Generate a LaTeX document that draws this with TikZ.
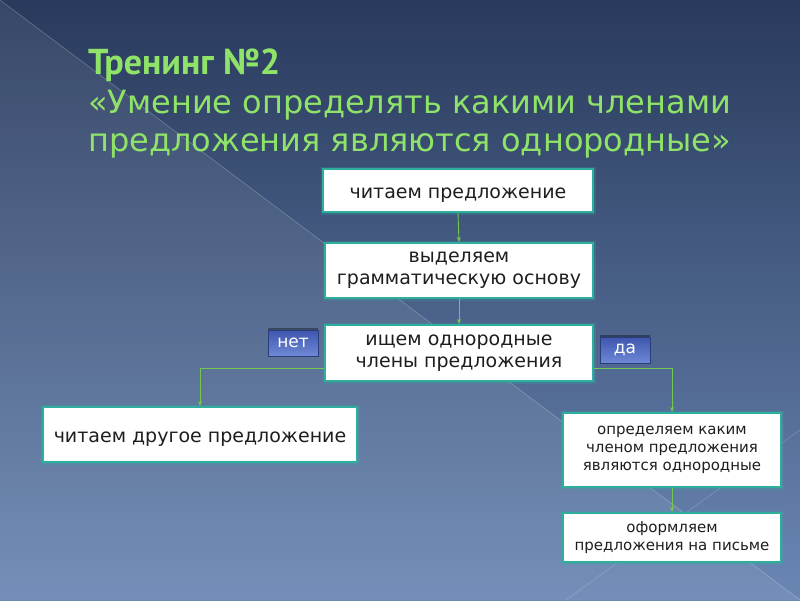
\documentclass[tikz,border=0pt]{standalone}
\usepackage{fontspec}
\setmainfont{DejaVu Sans}
\newfontfamily\titlefont{PT Sans}
\usetikzlibrary{arrows.meta,positioning,calc}
\definecolor{bgtop}{HTML}{293A5C}
\definecolor{bgbot}{HTML}{6A87B4}
\definecolor{ttlgreen}{HTML}{8FE368}
\definecolor{boxedge}{HTML}{2EAE9E}
\definecolor{txt}{HTML}{1E1E1E}
\definecolor{arrgreen}{HTML}{72C94E}
\definecolor{badgetop}{HTML}{3E56AE}
\definecolor{badgebot}{HTML}{6E89D6}
\tikzset{
  flowbox/.style={draw=boxedge, line width=2pt, fill=white, text=txt, align=center,
    inner sep=0pt, font=\fontsize{19}{22}\selectfont,
    preaction={draw=boxedge, line width=5pt, opacity=0.25}},
  onebox/.style={draw=boxedge, line width=2pt, fill=white, text=txt,
    inner sep=0pt, font=\fontsize{19}{22}\selectfont, text height=15pt, text depth=0pt,
    preaction={draw=boxedge, line width=5pt, opacity=0.25}},
  smallbox/.style={flowbox, font=\fontsize{15}{18}\selectfont},
  badge/.style={top color=badgetop, bottom color=badgebot, draw=badgetop!70!black, line width=0.5pt,
    text=white, minimum width=50pt, minimum height=26pt, inner sep=0pt,
    font=\fontsize{17}{18}\selectfont,
    preaction={fill=black, opacity=0.35, transform canvas={yshift=2pt}}},
  arr/.style={draw=arrgreen, line width=0.9pt, -{Stealth[length=5pt,width=4pt]}},
  ttl/.style={text=ttlgreen, anchor=base west, inner sep=0pt}
}
\begin{document}
\begin{tikzpicture}[x=1pt,y=-1pt]
\useasboundingbox (0,0) rectangle (800,600);
% background
\shade[top color=bgtop, bottom color=bgbot] (0,0) rectangle (800,600);
\fill[white, opacity=0.07] (0,0) -- (800,600) -- (0,600) -- cycle;
\draw[white, opacity=0.25, line width=0.6pt] (0,0) -- (800,600);
\draw[white, opacity=0.2, line width=0.6pt] (800,430) -- (566,600);
% title
\node[ttl, font=\titlefont\bfseries\fontsize{36}{40}\selectfont] (t1) at (88,74) {Тренинг №2};
\node[ttl, font=\fontsize{32}{38}\selectfont] (t2) at (88,113) {«Умение определять какими членами};
\node[ttl, font=\fontsize{32}{38}\selectfont] (t3) at (88,151) {предложения являются однородные»};
% boxes
\node[onebox, minimum width=270pt, minimum height=43pt] (b1) at (458,190.5) {читаем предложение};
\node[flowbox, minimum width=268pt, minimum height=55pt] (b2) at (459,270.5) {выделяем\\грамматическую основу};
\node[flowbox, minimum width=268pt, minimum height=56pt] (b3) at (459,353) {ищем однородные\\члены предложения};
\node[onebox, minimum width=314pt, minimum height=55pt] (b4) at (200,434.5) {читаем другое предложение};
\node[smallbox, minimum width=218pt, minimum height=74pt] (b5) at (672,450) {определяем каким\\членом предложения\\являются однородные};
\node[smallbox, minimum width=218pt, minimum height=49pt] (b6) at (672,537.5) {оформляем\\предложения на письме};
% badges
\node[badge] (no) at (293,343) {нет};
\node[badge] (yes) at (625,350) {да};
% connectors
\draw[arr] (b1.south) -- (b2.north);
\draw[arr] (b2.south) -- (b3.north);
\draw[arr] ([yshift=-15pt]b3.west) -| (b4.north);
\draw[arr] ([yshift=-15pt]b3.east) -| (b5.north);
\draw[arr] (b5.south) -- (b6.north);
\end{tikzpicture}
\end{document}
